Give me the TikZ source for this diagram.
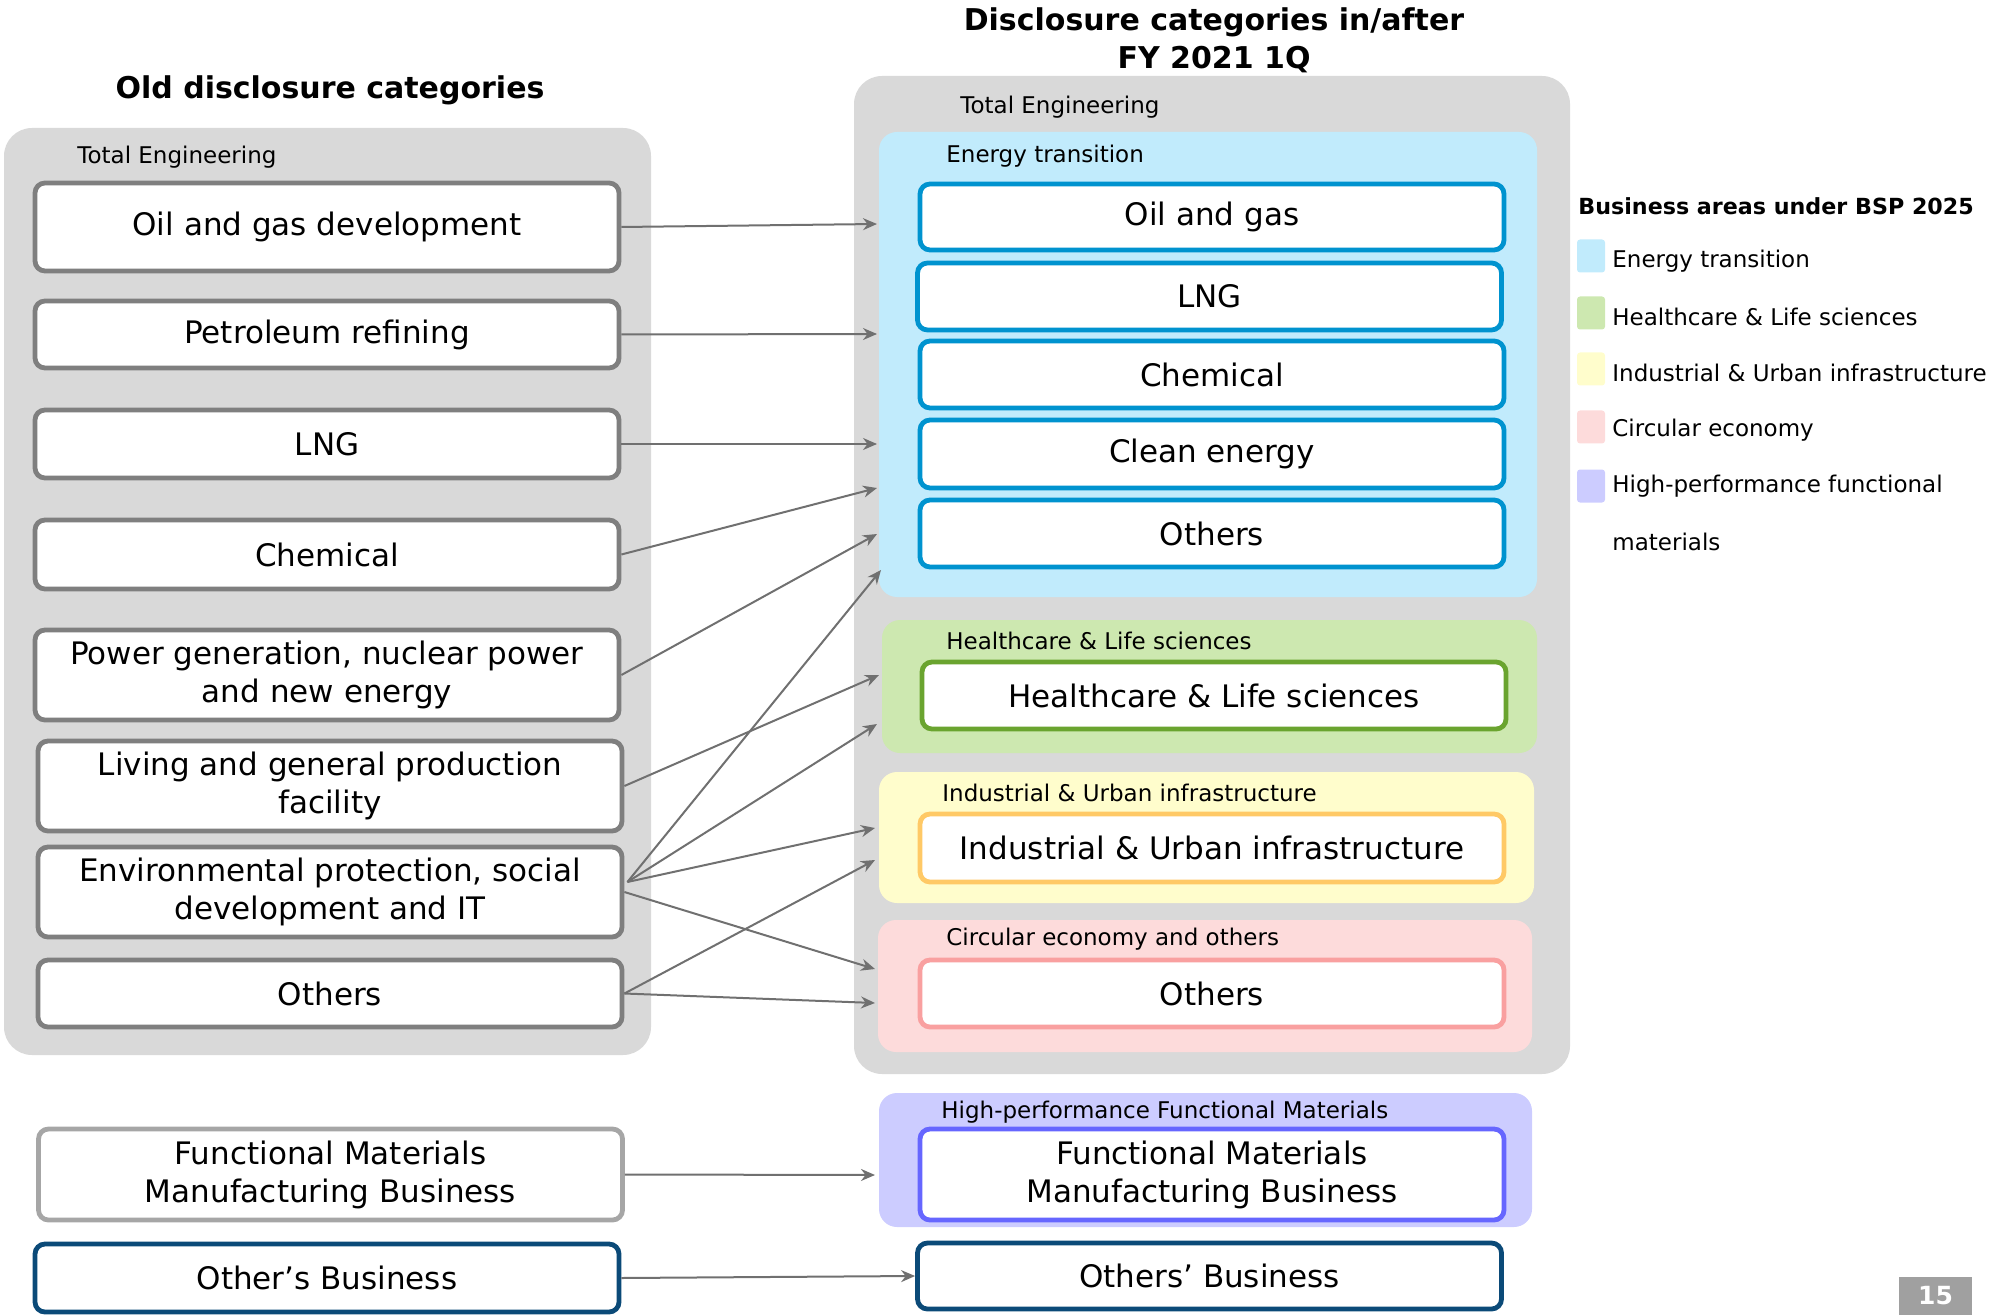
\documentclass[tikz,border=0pt]{standalone}
\usepackage{fontspec}
\setmainfont{DejaVu Sans}
\usetikzlibrary{arrows.meta,calc}
\definecolor{panelgray}{HTML}{D9D9D9}
\definecolor{oldborder}{HTML}{7F7F7F}
\definecolor{fmborder}{HTML}{A6A6A6}
\definecolor{darkblue}{HTML}{0B4A78}
\definecolor{etfill}{HTML}{C1EBFC}
\definecolor{etborder}{HTML}{0093CF}
\definecolor{hlfill}{HTML}{CDE8B0}
\definecolor{hlborder}{HTML}{6AA42F}
\definecolor{iufill}{HTML}{FFFDCC}
\definecolor{iuborder}{HTML}{FFC966}
\definecolor{cefill}{HTML}{FDDBDB}
\definecolor{ceborder}{HTML}{F9A0A0}
\definecolor{hpfill}{HTML}{CCCCFF}
\definecolor{hpborder}{HTML}{6666FF}
\definecolor{arrowgray}{HTML}{707070}
\definecolor{pagegray}{HTML}{A0A0A0}
\newcommand{\boxfont}{\fontsize{15.5}{19}\selectfont}
\newcommand{\smallfont}{\fontsize{11.5}{13}\selectfont}
\begin{document}
\begin{tikzpicture}[x=0.5pt,y=-0.5pt,
  catbox/.style={draw, line width=2.4pt, rounded corners=5pt, fill=white, inner sep=0pt,
    align=center, font=\boxfont, minimum width=292pt},
  oldbox/.style={catbox, draw=oldborder},
  region/.style={rounded corners=9pt, inner sep=0pt, draw=none},
  lbl/.style={anchor=west, font=\smallfont, inner sep=0pt},
  arr/.style={draw=arrowgray, line width=1pt, -{Stealth[length=7pt,width=6pt]}},
  swatch/.style={rounded corners=1.5pt, inner sep=0pt, minimum width=14pt, minimum height=16.5pt},
  ttl/.style={font=\bfseries\fontsize{15}{19}\selectfont, align=center, inner sep=0pt}
]
\useasboundingbox (0,0) rectangle (1989,1315);

% titles
\node[ttl] (oldttl) at (330,90) {Old disclosure categories};
\node[ttl] (newttl) at (1214,40) {Disclosure categories in/after\\FY 2021 1Q};

% panels
\node[region, fill=panelgray, rounded corners=14pt, minimum width=323.5pt, minimum height=463.5pt] (lp) at (327.5,591.5) {};
\node[region, fill=panelgray, rounded corners=14pt, minimum width=358pt, minimum height=499pt] (rp) at (1212,575) {};
\node[lbl] (lte) at (77,157) {Total Engineering};
\node[lbl] (rte) at (960,107) {Total Engineering};

% regions
\node[region, fill=etfill, minimum width=329pt, minimum height=232.5pt] (et) at (1208,364.5) {};
\node[region, fill=hlfill, minimum width=327.5pt, minimum height=66.5pt] (hl) at (1209.5,686.5) {};
\node[region, fill=iufill, minimum width=327.5pt, minimum height=65.5pt] (iu) at (1206.5,837.5) {};
\node[region, fill=cefill, minimum width=327pt, minimum height=66pt] (ce) at (1205,986) {};
\node[region, fill=hpfill, minimum width=326.5pt, minimum height=67pt] (hp) at (1205.5,1160) {};
\node[lbl] (etl) at (946,156) {Energy transition};
\node[lbl] (hll) at (946,641) {Healthcare \& Life sciences};
\node[lbl] (iul) at (942,793) {Industrial \& Urban infrastructure};
\node[lbl] (cel) at (946,939) {Circular economy and others};
\node[lbl] (hpl) at (941,1112) {High-performance Functional Materials};

% old boxes
\node[oldbox, minimum height=44pt] (o1) at (327,227) {Oil and gas development};
\node[oldbox, minimum height=33.5pt] (o2) at (327,334.5) {Petroleum refining};
\node[oldbox, minimum height=34pt] (o3) at (327,444) {LNG};
\node[oldbox, minimum height=34.5pt] (o4) at (327,554.5) {Chemical};
\node[oldbox, minimum height=45pt] (o5) at (327,675) {Power generation, nuclear power\\and new energy};
\node[oldbox, minimum height=45pt] (o6) at (330,786) {Living and general production\\facility};
\node[oldbox, minimum height=45pt] (o7) at (330,892) {Environmental protection, social\\development and IT};
\node[oldbox, minimum height=33.5pt] (o8) at (330,993.5) {Others};
\node[catbox, draw=fmborder, minimum height=45.5pt] (o9) at (330.5,1174.5) {Functional Materials\\Manufacturing Business};
\node[catbox, draw=darkblue, minimum height=34pt] (o10) at (327,1278) {Other’s Business};

% new boxes
\node[catbox, draw=etborder, minimum height=33pt] (n1) at (1212,217) {Oil and gas};
\node[catbox, draw=etborder, minimum height=33.5pt] (n2) at (1209.5,296.5) {LNG};
\node[catbox, draw=etborder, minimum height=33.5pt] (n3) at (1212,374.5) {Chemical};
\node[catbox, draw=etborder, minimum height=34pt] (n4) at (1212,454) {Clean energy};
\node[catbox, draw=etborder, minimum height=33.5pt] (n5) at (1212,533.5) {Others};
\node[catbox, draw=hlborder, minimum height=33.5pt] (n6) at (1214,695.5) {Healthcare \& Life sciences};
\node[catbox, draw=iuborder, minimum height=34pt] (n7) at (1212,848) {Industrial \& Urban infrastructure};
\node[catbox, draw=ceborder, minimum height=33.5pt] (n8) at (1212,993.5) {Others};
\node[catbox, draw=hpborder, minimum height=45.5pt] (n9) at (1212,1174.5) {Functional Materials\\Manufacturing Business};
\node[catbox, draw=darkblue, minimum height=33pt] (n10) at (1209.5,1276) {Others’ Business};

% arrow end points on region edges
\coordinate (t1) at (877,224);
\coordinate (t2) at (877,334);
\coordinate (t3) at (877,444);
\coordinate (t4) at (877,488);
\coordinate (t5) at (877,534);
\coordinate (t6) at (879,675);
\coordinate (t7) at (881,570);
\coordinate (t8) at (877,724);
\coordinate (t9) at (875,828);
\coordinate (t10) at (875,969);
\coordinate (t11) at (875,860);
\coordinate (t12) at (875,1003);
\coordinate (t13) at (875,1175);
\coordinate (s7) at ($(o7.east)+(3,-10)$);

\draw[arr] (o1.east) -- (t1);
\draw[arr] (o2.east) -- (t2);
\draw[arr] (o3.east) -- (t3);
\draw[arr] (o4.east) -- (t4);
\draw[arr] (o5.east) -- (t5);
\draw[arr] (o6.east) -- (t6);
\draw[arr] (s7) -- (t7);
\draw[arr] (s7) -- (t8);
\draw[arr] (s7) -- (t9);
\draw[arr] (o7.east) -- (t10);
\draw[arr] (o8.east) -- (t11);
\draw[arr] (o8.east) -- (t12);
\draw[arr] (o9.east) -- (t13);
\draw[arr] (o10.east) -- (n10.west);

% legend
\node[anchor=west, inner sep=0pt, font=\bfseries\fontsize{11.1}{12}\selectfont] (lgt) at (1578,206) {Business areas under BSP 2025};
\node[swatch, fill=etfill] (sw1) at (1591,256) {};
\node[swatch, fill=hlfill] (sw2) at (1591,313) {};
\node[swatch, fill=iufill] (sw3) at (1591,369) {};
\node[swatch, fill=cefill] (sw4) at (1591,427) {};
\node[swatch, fill=hpfill] (sw5) at (1591,486) {};
\node[lbl] (lg1) at (1612,261) {Energy transition};
\node[lbl] (lg2) at (1612,317) {Healthcare \& Life sciences};
\node[lbl] (lg3) at (1612,373) {Industrial \& Urban infrastructure};
\node[lbl] (lg4) at (1612,430) {Circular economy};
\node[lbl] (lg5) at (1612,486) {High-performance functional};
\node[lbl] (lg6) at (1612,542) {materials};

% page number
\node[fill=pagegray, minimum width=36.5pt, minimum height=19pt, inner sep=0pt, text=white,
  font=\bfseries\fontsize{12.5}{13}\selectfont] (pg) at (1935.5,1296) {15};
\end{tikzpicture}
\end{document}
